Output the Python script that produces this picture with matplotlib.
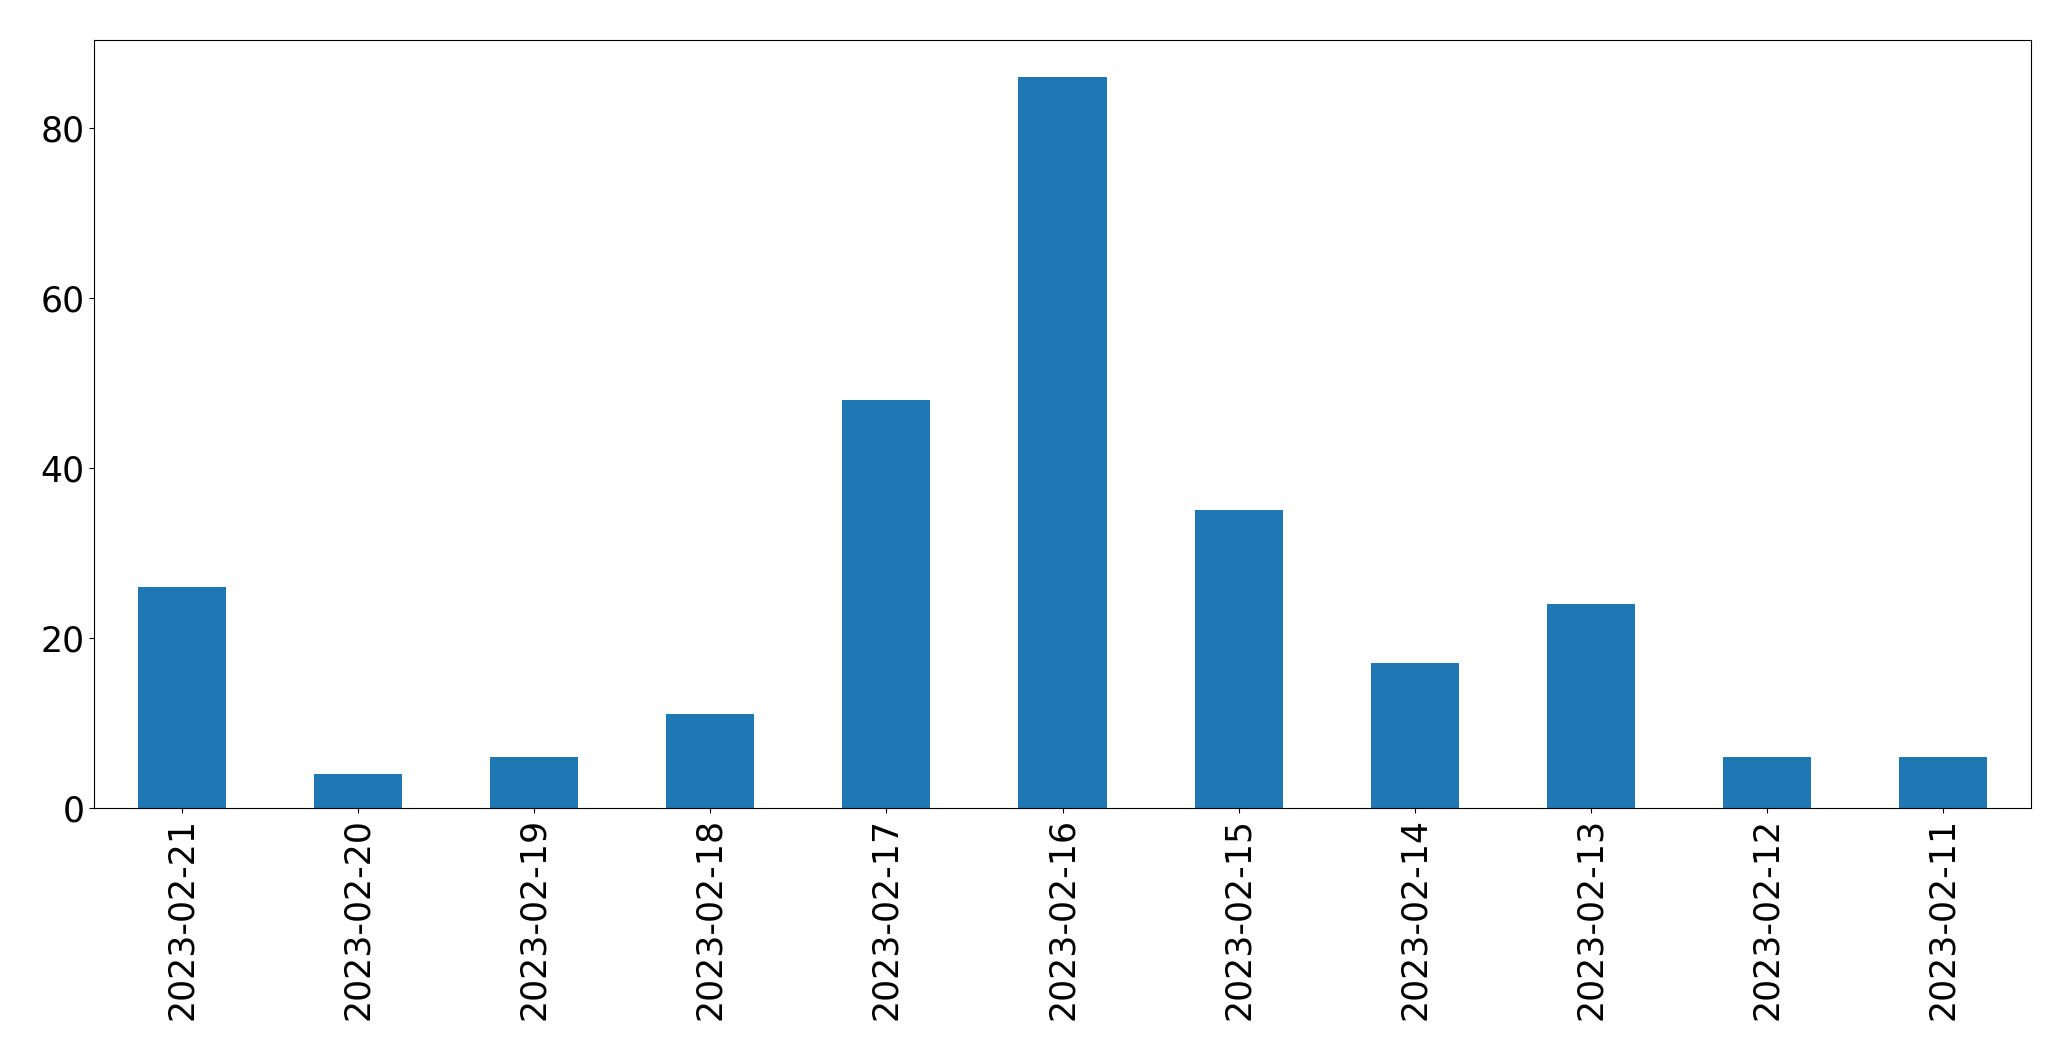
import matplotlib
matplotlib.use("Agg")
import matplotlib.pyplot as plt
import numpy as np

dates = ["2023-02-21", "2023-02-20", "2023-02-19", "2023-02-18", "2023-02-17",
         "2023-02-16", "2023-02-15", "2023-02-14", "2023-02-13", "2023-02-12",
         "2023-02-11"]
counts = [26, 4, 6, 11, 48, 86, 35, 17, 24, 6, 6]

fig = plt.figure(figsize=(20.71, 10.61), dpi=100)
ax = fig.add_axes([94/2071, 1-808/1061, (2031-94)/2071, (808-40)/1061])
x = np.arange(len(dates))
ax.bar(x, counts, width=0.5, color="#1f77b4")
ax.set_xlim(-0.5, len(dates) - 0.5)
ax.set_ylim(0, max(counts) * 1.05)
ax.set_xticks(x)
ax.set_xticklabels(dates, rotation=90)
ax.tick_params(labelsize=25)
fig.savefig("out.png", dpi=100)
